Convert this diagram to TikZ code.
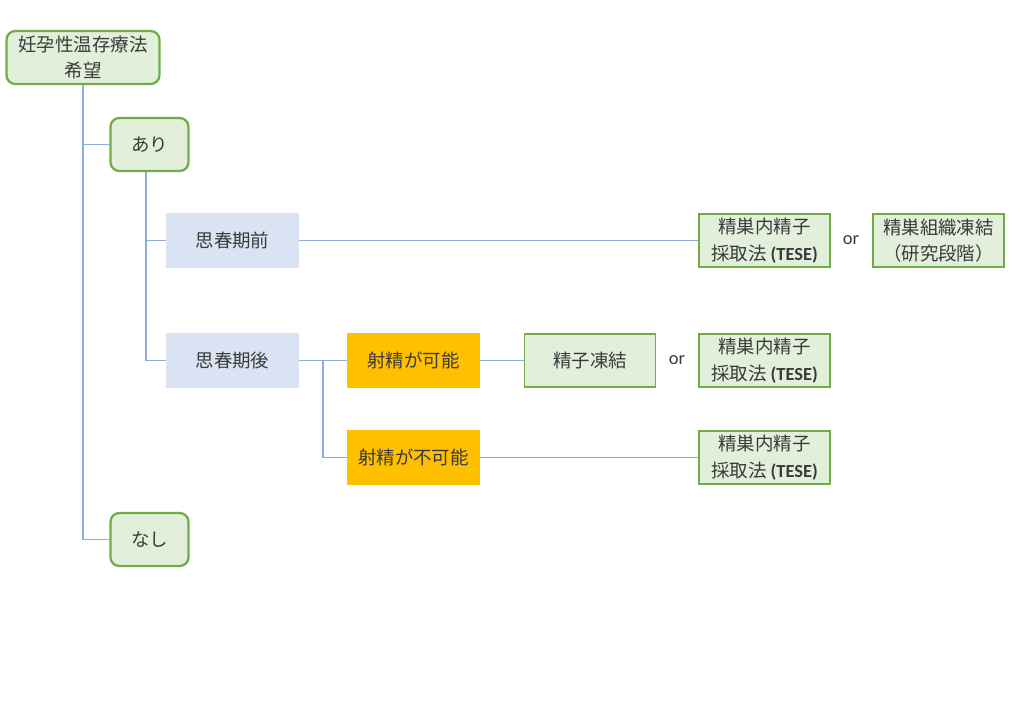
\documentclass[tikz,border=0pt]{standalone}
\usepackage{fontspec}
\setmainfont{Noto Sans CJK JP}
\newfontfamily\latn{Carlito}
\usepackage{xcolor}
\usepackage{tikz}
\usetikzlibrary{shapes}

\definecolor{boxgreen}{HTML}{E2EFDA}
\definecolor{edgegreen}{HTML}{70AD47}
\definecolor{boxblue}{HTML}{DAE3F3}
\definecolor{boxorange}{HTML}{FFC000}
\definecolor{linkblue}{HTML}{8FAADC}
\definecolor{txtgrey}{HTML}{3A3A3A}

\tikzset{
    every node/.style = {text = txtgrey, font = \fontsize{10.5}{15}\selectfont, align = center},
    roundbox/.style = {draw = edgegreen, line width = 1.3pt, fill = boxgreen, rounded corners = 5pt,
        minimum width = 1.56cm, minimum height = 1.06cm, inner sep = 1pt},
    agebox/.style = {fill = boxblue, minimum width = 2.66cm, minimum height = 1.1cm},
    ejbox/.style = {fill = boxorange, minimum width = 2.66cm, minimum height = 1.1cm},
    resbox/.style = {draw = edgegreen, line width = 1pt, fill = boxgreen,
        minimum width = 2.62cm, minimum height = 1.06cm, inner sep = 1pt},
    link/.style = {draw = linkblue, line width = 0.6pt}
}

\begin{document}
\begin{tikzpicture}[x = 0.02cm, y = -0.02cm]
            \useasboundingbox (0, 0) rectangle (1024, 709);

            % left column
            \node[roundbox, minimum width = 3.06cm] (wish) at (83, 57.5) {妊孕性温存療法\\希望};
            \node[roundbox] (yes) at (149.5, 144.5) {あり};
            \node[roundbox] (no) at (149.5, 539.5) {なし};

            % before / after puberty
            \node[agebox] (pre) at (232.5, 240.5) {思春期前};
            \node[agebox] (post) at (232.5, 360.5) {思春期後};

            % ejaculation
            \node[ejbox] (ejok) at (413.5, 360.5) {射精が可能};
            \node[ejbox] (ejng) at (413.5, 457.5) {射精が不可能};

            % results
            \node[resbox] (freeze) at (590, 360.5) {精子凍結};
            \node[resbox] (tese1) at (764.5, 240.5) {精巣内精子\\採取法 {\latn\bfseries (TESE)}};
            \node[resbox] (tissue) at (938.5, 240.5) {精巣組織凍結\\（研究段階）};
            \node[resbox] (tese2) at (764.5, 360.5) {精巣内精子\\採取法 {\latn\bfseries (TESE)}};
            \node[resbox] (tese3) at (764.5, 457.5) {精巣内精子\\採取法 {\latn\bfseries (TESE)}};

            \node (or1) at (851, 240) {\latn or};
            \node (or2) at (677, 360) {\latn or};

            % connectors
            \draw[link] (wish.south) |- (yes.west);
            \draw[link] (wish.south) |- (no.west);
            \coordinate (yesfoot) at (146, 172);
            \draw[link] (yesfoot) |- (pre.west);
            \draw[link] (yesfoot) |- (post.west);
            \draw[link] (pre.east) -- (tese1.west);
            \draw[link] (post.east) -- (ejok.west);
            \coordinate (fork) at (323, 360.5);
            \draw[link] (fork) |- (ejng.west);
            \draw[link] (ejok.east) -- (freeze.west);
            \draw[link] (ejng.east) -- (tese3.west);
        \end{tikzpicture}
\end{document}
